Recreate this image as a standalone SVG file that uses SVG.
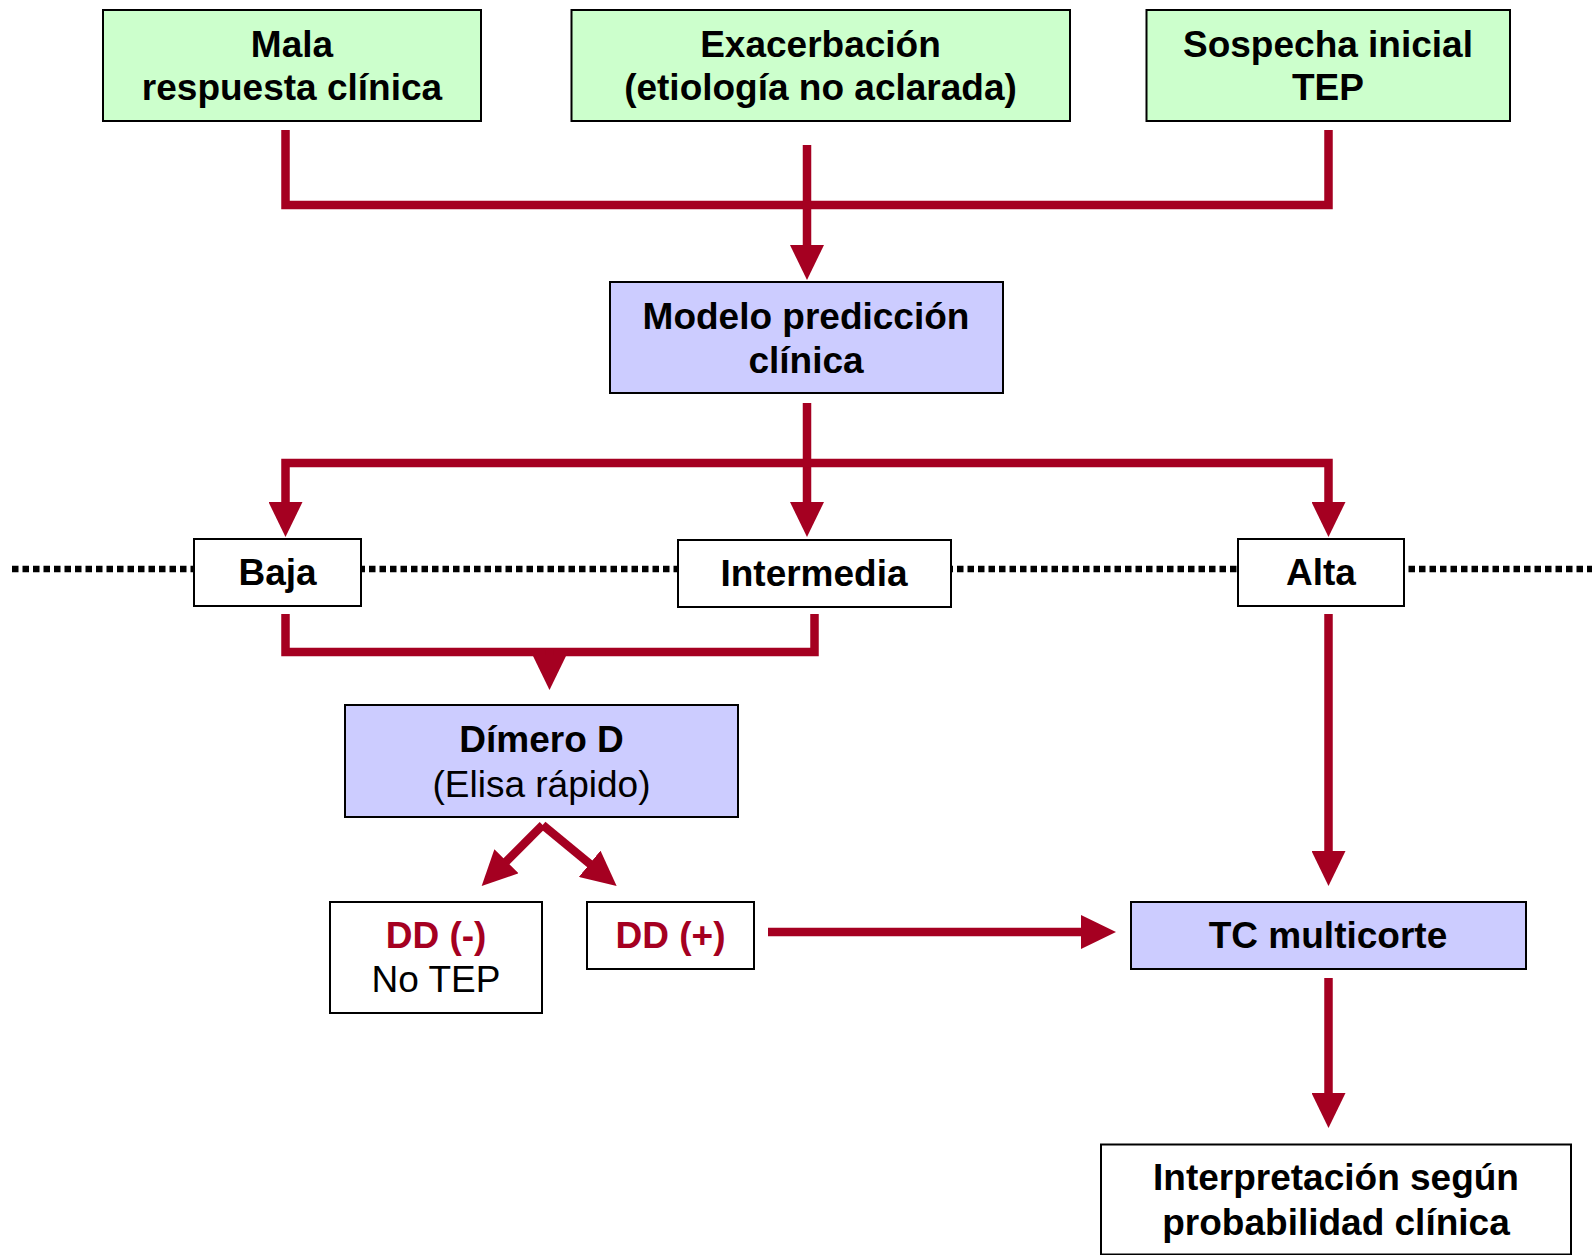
<svg xmlns="http://www.w3.org/2000/svg" width="1592" height="1255" viewBox="0 0 1592 1255">
  <style>
    .box { stroke: #000; stroke-width: 2; }
    .green { fill: #CCFFCC; }
    .blue { fill: #CCCCFF; }
    .white { fill: #FFFFFF; }
    text { font-family: "Liberation Sans", Arial, sans-serif; font-size: 37px; text-anchor: middle; fill: #000; }
    .b { font-weight: bold; }
    .red { fill: #A50021; }
    .link { fill: none; stroke: #A50021; stroke-width: 8.5; stroke-linejoin: miter; }
    .dots { fill: none; stroke: #000; stroke-width: 6.5; stroke-dasharray: 6.5 4; }
  </style>
  <defs>
    <marker id="head" markerUnits="userSpaceOnUse" viewBox="0 0 35 34" refX="2" refY="17" markerWidth="35" markerHeight="34" orient="auto">
      <path d="M0,0 L35,17 L0,34 Z" fill="#A50021"/>
    </marker>
  </defs>

  <!-- probability level divider -->
  <line class="dots" x1="12" y1="569" x2="1592" y2="569"/>

  <g id="connectors">
    <!-- three entry points merge into the prediction model -->
    <path class="link" d="M285.5,130 V205 H1328.5 V130"/>
    <path class="link" d="M807,145 V247" marker-end="url(#head)"/>
    <!-- model splits into three probability levels -->
    <path class="link" d="M807,403 V504" marker-end="url(#head)"/>
    <path class="link" d="M807,463 H285.5 V504" marker-end="url(#head)"/>
    <path class="link" d="M807,463 H1328.5 V504" marker-end="url(#head)"/>
    <!-- low + intermediate go to D-dimer -->
    <path class="link" d="M285.5,614 V652 H814.5 V614"/>
    <path class="link" d="M549.5,650 V657" marker-end="url(#head)"/>
    <!-- D-dimer results -->
    <path class="link" d="M542.7,825 L505,862.7" marker-end="url(#head)"/>
    <path class="link" d="M542.7,825 L591.2,865" marker-end="url(#head)"/>
    <!-- high probability and DD(+) to CT -->
    <path class="link" d="M1328.5,614 V853" marker-end="url(#head)"/>
    <path class="link" d="M768,932 H1083" marker-end="url(#head)"/>
    <!-- CT to interpretation -->
    <path class="link" d="M1328.5,978 V1095" marker-end="url(#head)"/>
  </g>

  <g id="mala">
    <rect class="box green" x="103" y="10" width="378" height="111"/>
    <text class="b" x="292" y="57">Mala</text>
    <text class="b" x="292" y="100">respuesta clínica</text>
  </g>
  <g id="exacerbacion">
    <rect class="box green" x="571.5" y="10" width="498.5" height="111"/>
    <text class="b" x="820.5" y="57">Exacerbación</text>
    <text class="b" x="820.5" y="100">(etiología no aclarada)</text>
  </g>
  <g id="sospecha">
    <rect class="box green" x="1146.5" y="10" width="363.5" height="111"/>
    <text class="b" x="1328" y="57">Sospecha inicial</text>
    <text class="b" x="1328" y="100">TEP</text>
  </g>
  <g id="modelo">
    <rect class="box blue" x="610" y="282" width="393" height="111"/>
    <text class="b" x="806" y="329">Modelo predicción</text>
    <text class="b" x="806" y="373">clínica</text>
  </g>
  <g id="baja">
    <rect class="box white" x="194" y="539" width="167" height="67"/>
    <text class="b" x="277.5" y="585">Baja</text>
  </g>
  <g id="intermedia">
    <rect class="box white" x="678" y="540" width="273" height="67"/>
    <text class="b" x="814" y="586">Intermedia</text>
  </g>
  <g id="alta">
    <rect class="box white" x="1238" y="539" width="166" height="67"/>
    <text class="b" x="1321" y="585">Alta</text>
  </g>
  <g id="dimero">
    <rect class="box blue" x="345" y="705" width="393" height="112"/>
    <text class="b" x="541.5" y="752">Dímero D</text>
    <text x="541.5" y="797">(Elisa rápido)</text>
  </g>
  <g id="dd-neg">
    <rect class="box white" x="330" y="902" width="212" height="111"/>
    <text class="b red" x="436" y="948">DD (-)</text>
    <text x="436" y="992">No TEP</text>
  </g>
  <g id="dd-pos">
    <rect class="box white" x="587" y="902" width="167" height="67"/>
    <text class="b red" x="670.5" y="948">DD (+)</text>
  </g>
  <g id="tc">
    <rect class="box blue" x="1131" y="902" width="395" height="67"/>
    <text class="b" x="1328" y="948">TC multicorte</text>
  </g>
  <g id="interpretacion">
    <rect class="box white" x="1101" y="1144.5" width="470" height="110"/>
    <text class="b" x="1336" y="1190">Interpretación según</text>
    <text class="b" x="1336" y="1235">probabilidad clínica</text>
  </g>
</svg>
